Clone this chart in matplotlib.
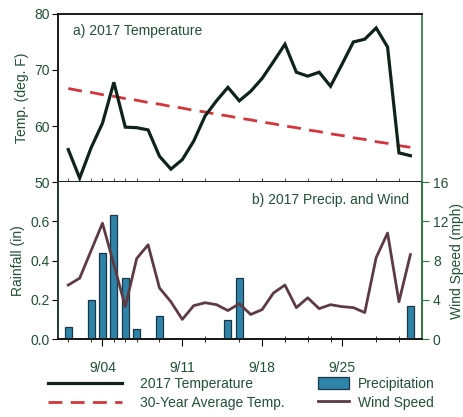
import numpy as np
import matplotlib
matplotlib.use("Agg")
import matplotlib.pyplot as plt
from matplotlib.lines import Line2D
from matplotlib.patches import Patch

plt.rcParams["font.family"] = ["Liberation Sans", "DejaVu Sans"]

# ---------------------------------------------------------------------------
# Data: September 2017, daily (9/01 .. 10/01)
# ---------------------------------------------------------------------------
days = list(range(1, 32))
temp_2017 = [55.8, 50.7, 56.1, 60.5, 67.8, 59.8, 59.7, 59.3, 54.6, 52.3,
             54.0, 57.3, 61.8, 64.5, 66.9, 64.5, 66.2, 68.5, 71.5, 74.6,
             69.6, 68.9, 69.6, 67.1, 71.0, 75.0, 75.5, 77.5, 74.1, 55.2, 54.7]
temp_30yr = [66.7, 66.3, 66.0, 65.6, 65.3, 64.9, 64.6, 64.2, 63.9, 63.5,
             63.2, 62.8, 62.5, 62.1, 61.8, 61.4, 61.1, 60.7, 60.4, 60.0,
             59.7, 59.3, 59.0, 58.6, 58.3, 57.9, 57.6, 57.2, 56.9, 56.5, 56.2]
precip = [0.06, 0.0, 0.20, 0.44, 0.63, 0.31, 0.05, 0.0, 0.115, 0.0,
          0.0, 0.0, 0.0, 0.0, 0.095, 0.31, 0.0, 0.0, 0.0, 0.0,
          0.0, 0.0, 0.0, 0.0, 0.0, 0.0, 0.0, 0.0, 0.0, 0.0, 0.17]
wind = [5.5, 6.2, 9.0, 11.8, 7.6, 3.3, 8.2, 9.6, 5.2, 3.8,
        2.0, 3.4, 3.7, 3.5, 2.9, 3.6, 2.5, 3.0, 4.7, 5.5,
        3.2, 4.2, 3.1, 3.5, 3.3, 3.2, 2.7, 8.3, 10.8, 3.8, 8.6]

tick_days = [4, 11, 18, 25]
tick_labels = ["9/04", "9/11", "9/18", "9/25"]
minor_days = [1, 3, 5, 6, 7, 9, 13, 16, 20, 22, 24, 28, 30]

# colours
TXT = "#1f5233"
GREEN_SPINE = "#2b7a3c"
TEMP_C = "#0f2418"
AVG_C = "#d4353a"
BAR_C = "#2e84a8"
BAR_EDGE = "#1b3646"
WIND_C = "#5e3a42"
FS = 10

fig = plt.figure(figsize=(4.64, 4.17), dpi=100)
ax_t = fig.add_axes([0.125, 0.5635, 0.784, 0.403])
ax_b = fig.add_axes([0.125, 0.187, 0.784, 0.3765])
ax_w = ax_b.twinx()

xlim = (0.1, 32.0)

# --- a) temperature ---
ax_t.plot(days, temp_2017, color=TEMP_C, lw=2.3, solid_joinstyle="miter", zorder=3)
ax_t.plot(days, temp_30yr, color=AVG_C, lw=2.0, dashes=(5, 3), zorder=2)
ax_t.set_xlim(*xlim)
ax_t.set_ylim(50, 80)
ax_t.set_yticks([50, 60, 70, 80])
ax_t.set_xticks(tick_days)
ax_t.set_xticks(minor_days, minor=True)
ax_t.tick_params(axis="x", which="both", direction="in", labelbottom=False,
                 length=3, color="#333333")
ax_t.tick_params(axis="y", direction="out", length=4, labelsize=FS,
                 labelcolor=TXT, pad=2)
ax_t.set_ylabel("Temp. (deg. F)", fontsize=FS, color=TXT, labelpad=4)
ax_t.text(0.04, 0.94, "a) 2017 Temperature", transform=ax_t.transAxes,
          fontsize=FS, color=TXT, va="top", ha="left")
for s in ["left", "bottom", "top"]:
    ax_t.spines[s].set_linewidth(1.4)
    ax_t.spines[s].set_color("#1a1a1a")
ax_t.spines["right"].set_color(GREEN_SPINE)
ax_t.spines["right"].set_linewidth(1.2)

# --- b) precipitation + wind ---
ax_b.bar(days, precip, width=0.62, color=BAR_C, edgecolor=BAR_EDGE,
         linewidth=0.9, zorder=2)
ax_b.set_xlim(*xlim)
ax_b.set_ylim(0, 0.8)
ax_b.set_yticks([0.0, 0.2, 0.4, 0.6])
ax_b.set_yticklabels(["0.0", "0.2", "0.4", "0.6"])
ax_b.set_xticks(tick_days)
ax_b.set_xticklabels(tick_labels)
ax_b.set_xticks(minor_days, minor=True)
ax_b.tick_params(axis="x", which="major", direction="out", length=5,
                 labelsize=FS, labelcolor=TXT, pad=11)
ax_b.tick_params(axis="x", which="minor", direction="inout", length=4)
ax_b.tick_params(axis="y", direction="out", length=4, labelsize=FS,
                 labelcolor=TXT, pad=2)
ax_b.set_ylabel("Rainfall (in)", fontsize=FS, color=TXT, labelpad=4)
ax_b.text(0.965, 0.93, "b) 2017 Precip. and Wind", transform=ax_b.transAxes,
          fontsize=FS, color=TXT, va="top", ha="right")

ax_w.plot(days, wind, color=WIND_C, lw=2.0, zorder=3)
ax_w.set_ylim(0, 16)
ax_w.set_yticks([0, 4, 8, 12, 16])
ax_w.tick_params(axis="y", direction="out", length=5, labelsize=FS,
                 labelcolor=TXT, color=GREEN_SPINE, pad=3)
ax_w.set_ylabel("Wind Speed (mph)", fontsize=FS, color=TXT, labelpad=1)

for a in (ax_b, ax_w):
    a.spines["bottom"].set_linewidth(1.4)
    a.spines["bottom"].set_color("#1a1a1a")
    a.spines["left"].set_color("#1f3f2a")
    a.spines["left"].set_linewidth(1.2)
    a.spines["top"].set_visible(False)
    a.spines["right"].set_color(GREEN_SPINE)
    a.spines["right"].set_linewidth(1.2)

# --- legends ---
h1 = [Line2D([], [], color=TEMP_C, lw=2.3),
      Line2D([], [], color=AVG_C, lw=2.0, dashes=(5, 3))]
leg1 = fig.legend(h1, ["2017 Temperature", "30-Year Average Temp."],
                  loc="upper left", bbox_to_anchor=(48 / 464, 1 - 377 / 417),
                  frameon=False, fontsize=FS, handlelength=5.3,
                  handletextpad=1.3, labelspacing=0.35, borderpad=0,
                  borderaxespad=0)
for t in leg1.get_texts():
    t.set_color(TXT)

h2 = [Patch(facecolor=BAR_C, edgecolor=BAR_EDGE, linewidth=0.9),
      Line2D([], [], color=WIND_C, lw=2.0)]
leg2 = fig.legend(h2, ["Precipitation", "Wind Speed"],
                  loc="upper left", bbox_to_anchor=(318 / 464, 1 - 377 / 417),
                  frameon=False, fontsize=FS, handlelength=2.2,
                  handleheight=1.0, handletextpad=0.65, labelspacing=0.35,
                  borderpad=0, borderaxespad=0)
for t in leg2.get_texts():
    t.set_color(TXT)

fig.savefig("out.png", dpi=100)
